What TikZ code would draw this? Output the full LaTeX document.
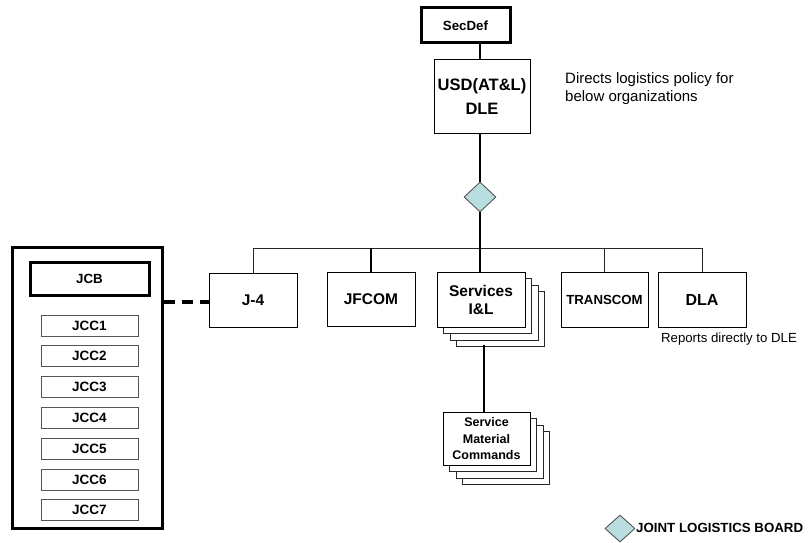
\documentclass[tikz,border=0pt]{standalone}
\usepackage{fontspec}
\setmainfont{Liberation Sans}
\usetikzlibrary{shapes.geometric}
\definecolor{jlb}{HTML}{B8DEE0}
\definecolor{lgray}{HTML}{555555}
\begin{document}
\begin{tikzpicture}[x=1pt,y=-1pt,
  box/.style={draw=black,line width=1pt,fill=white,align=center,inner sep=0pt,font=\bfseries\fontsize{15.5}{18}\selectfont},
  thickbox/.style={box,line width=3pt,font=\bfseries\fontsize{13.3}{16}\selectfont},
  jcc/.style={draw=lgray,line width=1pt,fill=white,minimum width=97pt,minimum height=21pt,inner sep=0pt,font=\bfseries\fontsize{13.5}{15}\selectfont},
  dmdshape/.style={diamond,draw=lgray,line width=0.9pt,fill=jlb,inner sep=0pt,minimum width=32pt,minimum height=30pt},
  heavy/.style={line width=2.5pt},
  thin/.style={line width=1pt,draw=black!85},
  note/.style={align=left,inner sep=0pt,anchor=north west}]
\useasboundingbox (0,0) rectangle (809,543);

% top
\node[thickbox,minimum width=89pt,minimum height=35pt] (SecDef) at (465.5,25.5) {SecDef};
\node[box,minimum width=96pt,minimum height=73pt,font=\bfseries\fontsize{16.5}{24}\selectfont] (USD) at (482,96.5) {USD(AT\&L)\\DLE};
\node[note,font=\fontsize{15}{18}\selectfont] (directs) at (565,72) {Directs logistics policy for\\below organizations};
\node[dmdshape] (dmd) at (480,197) {};

\draw[heavy] (SecDef.south -| dmd) -- (USD.north -| dmd);
\draw[heavy] (USD.south -| dmd) -- (dmd.north);

% second row
\node[box,minimum width=88pt,minimum height=54pt] (J4) at (253,300) {J-4};
\node[box,minimum width=88pt,minimum height=54pt] (JFCOM) at (371,299) {JFCOM};
% Services stack
\foreach \o in {19.5,13,6.5} {
  \draw[thin,fill=white] (437+\o,272+\o) rectangle (525+\o,327+\o);
}
\node[box,minimum width=88pt,minimum height=55pt] (Serv) at (481,299.5) {Services\\I\&L};
\node[box,minimum width=87pt,minimum height=55pt,font=\bfseries\fontsize{13.2}{16}\selectfont] (TRANS) at (604.5,299.5) {TRANSCOM};
\node[box,minimum width=88pt,minimum height=55pt,font=\bfseries\fontsize{16}{18}\selectfont] (DLA) at (702,299.5) {DLA};
\node[inner sep=0pt,anchor=north,font=\fontsize{13.2}{16}\selectfont] (reports) at (729,333) {Reports directly to DLE};

% bus
\coordinate (bus) at (480,248);
\draw[thin] (J4.north) -- (J4.north |- bus) -- (TRANS.north |- bus) -- (TRANS.north);
\draw[thin] (TRANS.north |- bus) -- (DLA.north |- bus) -- (DLA.north);
\draw[heavy] (JFCOM.north) -- (JFCOM.north |- bus);
\draw[heavy] (dmd.south) -- (Serv.north -| dmd);

% Service Material Commands stack
\foreach \o in {19.5,13,6.5} {
  \draw[thin,fill=white] (443+\o,412+\o) rectangle (530+\o,465+\o);
}
\node[box,minimum width=87pt,minimum height=53pt,font=\bfseries\fontsize{12.5}{16.5}\selectfont] (SMC) at (486.5,439) {Service\\Material\\Commands};
\coordinate (servbot) at (484,344.5);
\draw[heavy] (servbot) -- (SMC.north -| servbot);

% left panel
\node[draw=black,line width=3pt,minimum width=150pt,minimum height=281pt,inner sep=0pt] (outer) at (87,387.5) {};
\node[thickbox,minimum width=119pt,minimum height=33pt] (JCB) at (89.5,278.5) {JCB};
\foreach \i in {1,...,7} {
  \node[jcc] (JCC\i) at (89.5,{325.5+30.8*(\i-1)}) {JCC\i};
}
\draw[line width=3.5pt,dash pattern=on 11pt off 7pt] (outer.east |- 0,302) -- (J4.west |- 0,302);

% legend
\node[dmdshape,minimum width=30pt,minimum height=27pt] (leg) at (620,528.5) {};
\node[anchor=west,inner sep=0pt,font=\bfseries\fontsize{13.3}{16}\selectfont] (legtext) at (636,528) {JOINT LOGISTICS BOARD};
\end{tikzpicture}
\end{document}
